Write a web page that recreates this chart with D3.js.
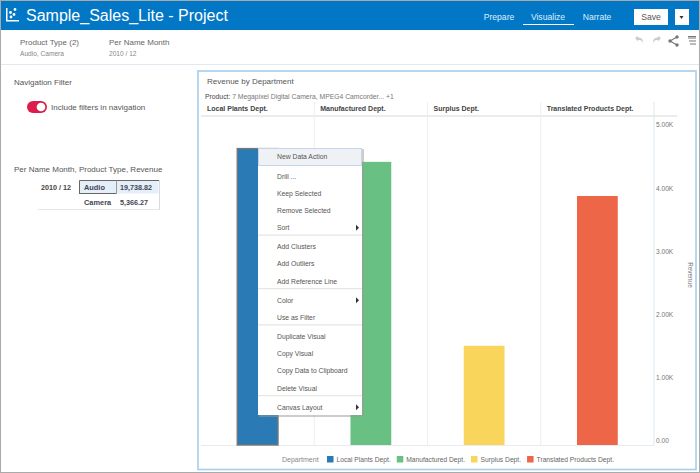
<!DOCTYPE html>
<html>
<head>
<meta charset="utf-8">
<script src="https://cdnjs.cloudflare.com/ajax/libs/d3/7.8.5/d3.min.js"></script>
<style>
body { margin: 0; background: #fff; overflow: hidden; }
text { font-family: "Liberation Sans", Arial, sans-serif; fill: #555; }
</style>
</head>
<body>
<div id="chart"></div>
<script>
var departments = ["Local Plants Dept.", "Manufactured Dept.", "Surplus Dept.", "Translated Products Dept."];
var revenue = [4690, 4480, 1570, 3940];
var colours = ["#2a7ab5", "#68c182", "#fad55c", "#ed6647"];
var yTicks = [0, 1000, 2000, 3000, 4000, 5000];
var tickLabels = ["0.00", "1.00K", "2.00K", "3.00K", "4.00K", "5.00K"];
var navItems = ["Prepare", "Visualize", "Narrate"];
var menuGroups = [
	["New Data Action"],
	["Drill ...", "Keep Selected", "Remove Selected", "Sort"],
	["Add Clusters", "Add Outliers", "Add Reference Line"],
	["Color", "Use as Filter"],
	["Duplicate Visual", "Copy Visual", "Copy Data to Clipboard", "Delete Visual"],
	["Canvas Layout"]
];
var subMenus = ["Sort", "Color", "Canvas Layout"];

var width = 700, height = 473;
var plot = {left: 201, right: 654, top: 116, bottom: 445};

var svg = d3.select("#chart").append("svg")
	.attr("width", width)
	.attr("height", height)
	.style("display", "block");

function label(txt, x, y, size, colour, weight, anchor) {
	return svg.append("text")
		.text(txt)
		.attr("x", x)
		.attr("y", y)
		.attr("font-size", size)
		.attr("font-weight", weight || "normal")
		.attr("text-anchor", anchor || "start")
		.style("fill", colour || "#555");
}

function line(x1, y1, x2, y2, colour, w) {
	return svg.append("line")
		.attr("x1", x1).attr("y1", y1).attr("x2", x2).attr("y2", y2)
		.attr("stroke", colour)
		.attr("stroke-width", w || 1);
}

// page edges
svg.append("rect").attr("x", 0.5).attr("y", 0.5).attr("width", width - 1).attr("height", height - 1)
	.attr("fill", "none").attr("stroke", "#aaa");

// header
svg.append("rect").attr("x", 1).attr("y", 1).attr("width", width - 2).attr("height", 29).attr("fill", "#0277c6");
var logo = svg.append("g").attr("fill", "#fff");
logo.append("rect").attr("x", 6).attr("y", 20).attr("width", 13).attr("height", 1.5);
logo.append("rect").attr("x", 6).attr("y", 8).attr("width", 1.5).attr("height", 13);
[[11, 17, 1.4], [10.5, 12.5, 1.4], [14, 14.5, 1.4], [15, 9.5, 1.4]].forEach(function(d) {
	logo.append("circle").attr("cx", d[0]).attr("cy", d[1]).attr("r", d[2]);
});
label("Sample_Sales_Lite - Project", 26, 20.5, 16, "#fff");

var navX = d3.scalePoint().domain(navItems).range([499, 597]);
navItems.forEach(function(d) {
	label(d, navX(d), 20, 8.6, "#dcefff", "normal", "middle");
});
line(523, 24.5, 574, 24.5, "#fff", 1);
svg.append("rect").attr("x", 634).attr("y", 9).attr("width", 34).attr("height", 16).attr("fill", "#fff");
label("Save", 651, 20, 8.6, "#555", "normal", "middle");
svg.append("rect").attr("x", 675).attr("y", 9).attr("width", 14).attr("height", 16).attr("fill", "#fff");
svg.append("path").attr("d", "M679.5 16h4l-2 3z").attr("fill", "#333");

// filter bar
label("Product Type (2)", 20, 45, 8, "#666");
label("Audio, Camera", 20, 56, 6.6, "#888");
label("Per Name Month", 109, 45, 8, "#666");
label("2010 / 12", 109, 56, 6.6, "#888");
line(1, 64.5, 699, 64.5, "#e2e8f0");

// toolbar icons
svg.append("path").attr("d", "M635 38l3-2v1.5c4 0 5 2 5 6c-1-3-2-3.5-5-3.5v1.5z").attr("fill", "#ccc");
svg.append("path").attr("d", "M661 38l-3-2v1.5c-4 0-5 2-5 6c1-3 2-3.5 5-3.5v1.5z").attr("fill", "#ccc");
svg.append("path").attr("d", "M677 37l-7 4l7 4").attr("fill", "none").attr("stroke", "#777").attr("stroke-width", 1.1);
[[677, 37], [670, 41], [677, 45]].forEach(function(d) {
	svg.append("circle").attr("cx", d[0]).attr("cy", d[1]).attr("r", 1.7).attr("fill", "#777");
});
[38, 41, 44].forEach(function(y, i) {
	line(688 + i, y, 696, y, "#777", 1);
});
line(688, 36.5, 696, 36.5, "#777", 1);

// left pane
label("Navigation Filter", 14, 85, 8, "#555");
svg.append("rect").attr("x", 27).attr("y", 101).attr("width", 20).attr("height", 12).attr("rx", 6).attr("fill", "#de1b4f");
svg.append("circle").attr("cx", 41).attr("cy", 107).attr("r", 4.3).attr("fill", "#fff");
label("Include filters in navigation", 51, 110, 8, "#555");
label("Per Name Month, Product Type, Revenue", 14, 172, 8, "#555");

svg.append("rect").attr("x", 79.5).attr("y", 180.5).attr("width", 79).attr("height", 13).attr("fill", "#e4eff9").attr("stroke", "none");
line(79.5, 180.5, 159, 180.5, "#666");
line(79.5, 180.5, 79.5, 194, "#666");
line(79.5, 193.5, 116, 193.5, "#666");
line(116.5, 180.5, 116.5, 194, "#999");
line(159.5, 180, 159.5, 209, "#d5dbe2");
line(38, 209.5, 160, 209.5, "#e4e8ee");
label("2010 / 12", 71, 190, 7.2, "#444", "bold", "end");
label("Audio", 84, 190, 7.4, "#445", "bold");
label("19,738.82", 152, 190, 7.2, "#445", "bold", "end");
label("Camera", 84, 204.5, 7.4, "#445", "bold");
label("5,366.27", 148, 204.5, 7.2, "#445", "bold", "end");

// chart frame
svg.append("rect").attr("x", 198).attr("y", 71).attr("width", 498).attr("height", 398.5)
	.attr("fill", "#fff").attr("stroke", "#a5cdec").attr("stroke-width", 1.6);
label("Revenue by Department", 207, 84, 8, "#555");
var product = label("", 205, 99, 6.8, "#777");
product.append("tspan").text("Product: ").style("fill", "#444");
product.append("tspan").text("7 Megapixel Digital Camera, MPEG4 Camcorder... +1");

var x = d3.scaleBand()
	.domain(departments)
	.range([plot.left, plot.right])
	.paddingInner(0.64)
	.paddingOuter(0.32);

var y = d3.scaleLinear()
	.domain([0, 5000])
	.range([plot.bottom, plot.bottom - 316]);

var step = x.step();

// column headers and grid
line(plot.left, plot.top, 677, plot.top, "#d8d8d8", 1.2);
line(plot.left, plot.bottom + 0.5, plot.right, plot.bottom + 0.5, "#e8ecf0");
departments.forEach(function(d, i) {
	var colLeft = plot.left + step * i;
	label(d, colLeft + 6, 111, 7, "#444", "bold");
	line(colLeft + step, 102, colLeft + step, plot.bottom, i == 3 ? "#dfe8f2" : "#eee");
});

svg.selectAll(".bar")
	.data(departments)
	.enter()
	.append("rect")
	.attr("class", "bar")
	.attr("x", function(d) { return x(d); })
	.attr("y", function(d, i) { return y(revenue[i]); })
	.attr("width", x.bandwidth())
	.attr("height", function(d, i) { return y(0) - y(revenue[i]); })
	.attr("fill", function(d, i) { return colours[i]; })
	.attr("stroke", function(d, i) { return i == 0 ? "#777" : "none"; })
	.attr("stroke-width", 1.4);

// value axis, labels sit just above their grid position
var axis = d3.axisRight(y)
	.tickValues(yTicks)
	.tickSize(0)
	.tickPadding(2)
	.tickFormat(function(d, i) { return tickLabels[i]; });

var axisG = svg.append("g")
	.attr("transform", "translate(" + plot.right + ",0)")
	.call(axis);
axisG.select(".domain").remove();
axisG.selectAll("text")
	.attr("dy", "-2.2px")
	.attr("font-size", 6.6)
	.attr("font-family", "Liberation Sans")
	.style("fill", "#777");

svg.append("text")
	.text("Revenue")
	.attr("transform", "translate(687.5,275) rotate(90)")
	.attr("text-anchor", "middle")
	.attr("font-size", 6.4)
	.style("fill", "#777");

// legend
label("Department", 282, 462, 7, "#888");
var legendRun = 327;
departments.forEach(function(d, i) {
	svg.append("rect").attr("x", legendRun).attr("y", 456).attr("width", 6.5).attr("height", 6.5).attr("fill", colours[i]);
	var t = label(d, legendRun + 9.5, 462, 6.7, "#666");
	legendRun += 9.5 + t.node().getComputedTextLength() + 6;
});

// context menu
var menu = {x: 258, y: 148, w: 104, h: 267};
svg.append("rect").attr("x", menu.x + 1).attr("y", menu.y + 1).attr("width", menu.w + 1).attr("height", menu.h + 1)
	.attr("fill", "#999").attr("opacity", 0.5);
svg.append("rect").attr("x", menu.x).attr("y", menu.y).attr("width", menu.w).attr("height", menu.h).attr("fill", "#fff");
svg.append("rect").attr("x", menu.x + 0.5).attr("y", menu.y + 0.5).attr("width", menu.w - 1).attr("height", 17)
	.attr("fill", "#eff1f4").attr("stroke", "#c3d6ea");

var rowY = 157;
menuGroups.forEach(function(group, g) {
	if (g > 0) {
		if (g > 1) line(menu.x, rowY - 9.8, menu.x + menu.w, rowY - 9.8, "#e6e6e6", 1.2);
		rowY += 1.9;
	}
	group.forEach(function(item) {
		label(item, menu.x + 19, rowY + 2.4, 6.8, "#555");
		if (subMenus.indexOf(item) > -1) {
			svg.append("path")
				.attr("d", "M" + (menu.x + 98) + " " + (rowY - 3) + "l3 3l-3 3z")
				.attr("fill", "#333");
		}
		rowY += 17.2;
	});
});
</script>
</body>
</html>
